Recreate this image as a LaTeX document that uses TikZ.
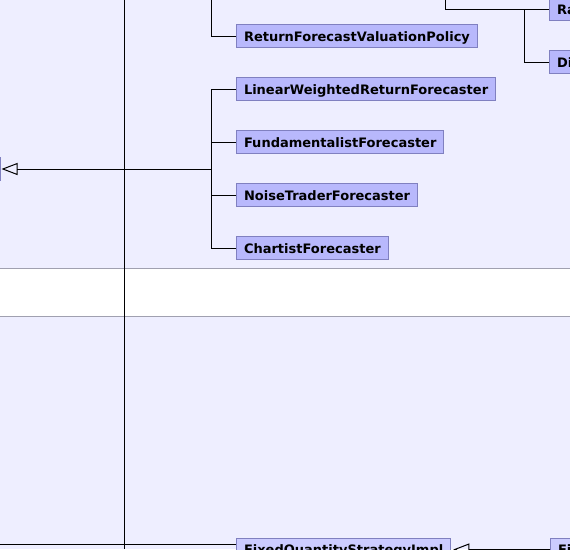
\documentclass[tikz,border=0pt]{standalone}
\usepackage{fontspec}
\setmainfont{DejaVu Sans}
\usetikzlibrary{arrows.meta}
\definecolor{bgl}{RGB}{238,238,255}
\definecolor{boxf}{RGB}{184,184,252}
\definecolor{boxfl}{RGB}{204,204,255}
\definecolor{boxd}{RGB}{128,128,192}
\definecolor{sepc}{RGB}{160,160,176}
\begin{document}
\begin{tikzpicture}[x=1pt,y=-1pt,
  cls/.style={draw=boxd, fill=boxf, line width=1pt, anchor=west,
    minimum height=23pt, inner xsep=7.5pt, inner ysep=0pt,
    text height=10pt, text depth=0pt,
    font=\fontsize{13}{15}\selectfont\bfseries, text=black},
  conn/.style={draw=black, line width=1pt},
  inh/.style={conn, -{Triangle[open, length=16pt, width=12pt, line width=1pt]}}
]
\useasboundingbox (0,0) rectangle (570,549);
\clip (0,0) rectangle (570,549);
% background bands
\fill[bgl] (0,0) rectangle (570,268);
\fill[white] (0,268) rectangle (570,316);
\fill[bgl] (0,316) rectangle (570,549);
\draw[sepc, line width=1pt] (0,268) -- (570,268);
\draw[sepc, line width=1pt] (0,316) -- (570,316);
% vertical line
\coordinate (v1) at (124,0);
\coordinate (v2) at (124,549);
\draw[conn] (v1) -- (v2);
% nodes
\node[cls, anchor=east, minimum width=60pt] (par) at (1,169) {};
\node[cls] (rf) at (236,36) {ReturnForecastValuationPolicy};
\node[cls] (lw) at (236,89) {LinearWeightedReturnForecaster};
\node[cls] (fu) at (236,142) {FundamentalistForecaster};
\node[cls] (nt) at (236,195) {NoiseTraderForecaster};
\node[cls] (ch) at (236,248) {ChartistForecaster};
\node[cls, text width=60pt, align=left] (ra) at (549,9) {Ra};
\node[cls, text width=60pt, align=left] (di) at (549,62) {Di};
\node[cls, fill=boxfl] (fq) at (236,549.5) {FixedQuantityStrategyImpl};
\node[cls, fill=boxfl, text width=60pt, align=left] (fi) at (550,549.5) {Fi};
% forecaster tree
\coordinate (t1) at (211,169);
\draw[conn] (t1 |- lw.west) -- (t1 |- ch.west);
\draw[conn] (t1 |- lw.west) -- (lw.west);
\draw[conn] (t1 |- fu.west) -- (fu.west);
\draw[conn] (t1 |- nt.west) -- (nt.west);
\draw[conn] (t1 |- ch.west) -- (ch.west);
\draw[inh, shorten >=0.5pt] (t1) -- (par.east);
% top left
\coordinate (t2) at (211,0);
\draw[conn] (t2) |- (rf.west);
% top right
\coordinate (t3) at (445,0);
\draw[conn] (t3) |- (ra.west);
\coordinate (t4) at (524,9);
\draw[conn] (t4) |- (di.west);
% bottom
\coordinate (t5) at (0,544);
\draw[conn] (t5) -- (t5 -| fq.west);
\draw[inh, shorten >=2pt] (fi.west) -- (fq.east);
\end{tikzpicture}
\end{document}
